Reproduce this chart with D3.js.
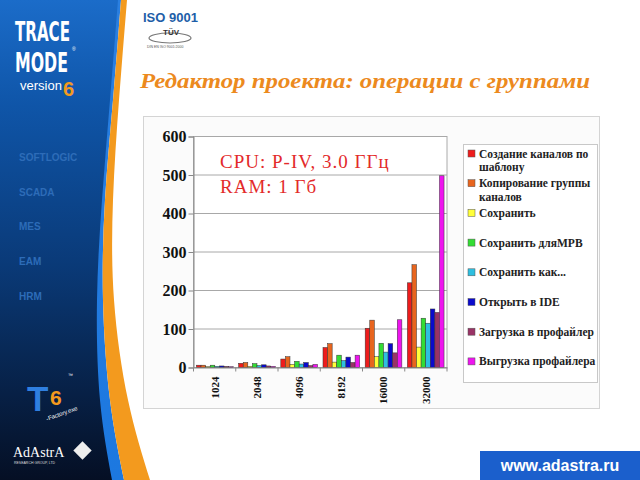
<!DOCTYPE html>
<html><head><meta charset="utf-8">
<script src="https://cdn.jsdelivr.net/npm/d3@7"></script>
<style>html,body{margin:0;padding:0;background:#fff;}svg{display:block;}</style>
</head><body>
<svg id="c" width="640" height="480"></svg>
<script>
// ---- data ----
const categories = ["1024","2048","4096","8192","16000","32000"];
const seriesNames = ["Создание каналов по шаблону","Копирование группы каналов","Сохранить","Сохранить дляМРВ","Сохранить как...","Открыть в IDE","Загрузка в профайлер","Выгрузка профайлера"];
const legendLines = [["Создание каналов по","шаблону"],["Копирование группы","каналов"],["Сохранить"],["Сохранить дляМРВ"],["Сохранить как..."],["Открыть в IDE"],["Загрузка в профайлер"],["Выгрузка профайлера"]];
const sCreate  = [6, 11, 22, 52, 102, 220];
const sCopy    = [6, 13, 28, 62, 123, 267];
const sSave    = [2, 3, 8, 14, 28, 53];
const sSaveMRV = [6, 10, 16, 32, 63, 128];
const sSaveAs  = [3, 5, 9, 18, 40, 115];
const sOpenIDE = [4, 7, 13, 27, 62, 152];
const sLoad    = [3, 4, 5, 13, 38, 143];
const sUnload  = [2, 3, 8, 32, 124, 498];
const seriesValues = [sCreate,sCopy,sSave,sSaveMRV,sSaveAs,sOpenIDE,sLoad,sUnload];
const seriesColors = ["#ee1c1c","#e8651e","#ffff3a","#33dd33","#2ebfe0","#0a0acc","#993366","#ee14ee"];
const yTicks = [0,100,200,300,400,500,600];
const sideItems = ["SOFTLOGIC","SCADA","MES","EAM","HRM"];

const svg = d3.select("#c");
const defs = svg.append("defs");

// ---- left decorative panel ----
const g1 = defs.append("linearGradient").attr("id","pg").attr("x1",0).attr("y1",0).attr("x2",0).attr("y2",1);
g1.append("stop").attr("offset",0).attr("stop-color","#1b6cc9");
g1.append("stop").attr("offset",0.22).attr("stop-color","#0f55a8");
g1.append("stop").attr("offset",0.55).attr("stop-color","#0a3a78");
g1.append("stop").attr("offset",1).attr("stop-color","#050f24");
const g2 = defs.append("linearGradient").attr("id","sg").attr("x1",0).attr("y1",0).attr("x2",0).attr("y2",1);
g2.append("stop").attr("offset",0).attr("stop-color","#2a7fe0");
g2.append("stop").attr("offset",1).attr("stop-color","#1c78e0");

const curve = d3.line().curve(d3.curveNatural);
const ys = [0,100,200,300,400,480];
const dEdge = [118,110,102,97,100,112];
const oL = [121,113,105,103,110,124];
const oR = [127,119,113,114,128,150];
function band(left,right){
  const a = ys.map((y,i)=>[left[i],y]);
  const b = ys.map((y,i)=>[right[i],y]).reverse();
  return curve(a) + "L" + curve(b).slice(1) + "Z";
}
const zeros = ys.map(()=>0);
svg.append("path").attr("d",band(zeros,oL)).attr("fill","url(#sg)");
svg.append("path").attr("d",band(zeros,dEdge)).attr("fill","url(#pg)");
svg.append("path").attr("d",band(oL,oR)).attr("fill","#f39a1e");

// logo: each word scaled horizontally to its width, stacked by measured boxes
const logoFont = "'Liberation Sans Narrow','DejaVu Sans Condensed','Liberation Sans',sans-serif";
function logoWord(txt, size, width, x, top, weight, color, family){
  const t = svg.append("text").attr("x",0).attr("y",0).attr("font-family",family||logoFont)
    .attr("font-weight",weight).attr("font-size",size).attr("fill",color).text(txt);
  const bb = t.node().getBBox();
  const sx = width ? width/bb.width : 1;
  const base = top - bb.y;
  t.attr("transform",`translate(${x - bb.x*sx},${base}) scale(${sx},1)`);
  return {bottom: top + bb.height, right: x + bb.width*sx};
}
const w1 = logoWord("TRACE", 26, 55, 15, 17, "bold", "#fff");
const w2 = logoWord("MODE", 26, 53, 15, w1.bottom + 0.5, "bold", "#fff");
svg.append("text").attr("x",72).attr("y",w1.bottom + 4).attr("font-family","'Liberation Sans',Arial,sans-serif").attr("font-size",5).attr("fill","#fff").text("®");
const w3 = logoWord("version", 13, 0, 20, w2.bottom + 0.5, "normal", "#fff", "'Liberation Sans',Arial,sans-serif");
logoWord("6", 20, 0, w3.right + 1, w2.bottom + 0.5, "bold", "#f39a1e", "'Liberation Sans',Arial,sans-serif");

svg.append("g").selectAll("text").data(sideItems).join("text")
  .attr("x",19).attr("y",(d,i)=>161+i*34.7)
  .attr("font-family","'Liberation Sans',Arial,sans-serif").attr("font-weight","bold").attr("font-size",10)
  .attr("fill","#2d6cb8").text(d=>d);

// T6 logo
svg.append("text").attr("x",27).attr("y",411).attr("font-family","'Liberation Sans',Arial,sans-serif").attr("font-weight","bold").attr("font-size",35).attr("fill","#2f7fe0").text("T");
svg.append("text").attr("x",50).attr("y",405).attr("font-family","'Liberation Sans',Arial,sans-serif").attr("font-weight","bold").attr("font-size",21).attr("fill","#f39a1e").text("6");
svg.append("text").attr("x",47).attr("y",421).attr("font-family","'Liberation Sans',Arial,sans-serif").attr("font-size",6).attr("fill","#fff").attr("transform","rotate(-20 47 421)").text("-Factory.exe");
svg.append("text").attr("x",68).attr("y",377).attr("font-family","'Liberation Sans',Arial,sans-serif").attr("font-size",5).attr("fill","#fff").text("™");
svg.append("text").attr("x",13).attr("y",457).attr("font-family","'Liberation Serif',serif").attr("font-size",14).attr("fill","#fff").text("AdAstrA");
svg.append("text").attr("x",14).attr("y",464).attr("font-family","'Liberation Sans',Arial,sans-serif").attr("font-size",3.5).attr("fill","#ddd").text("RESEARCH GROUP, LTD");
svg.append("rect").attr("x",76).attr("y",444).attr("width",13).attr("height",13).attr("fill","#eee").attr("transform","rotate(45 82.5 450.5)");

// ISO header
svg.append("text").attr("x",143).attr("y",22).attr("font-family","'Liberation Sans',Arial,sans-serif").attr("font-weight","bold").attr("font-size",13).attr("fill","#1e5ea8").text("ISO 9001");
svg.append("ellipse").attr("cx",170).attr("cy",38).attr("rx",21).attr("ry",5).attr("fill","none").attr("stroke","#777").attr("stroke-width",1.2);
svg.append("text").attr("x",163).attr("y",35).attr("font-family","'Liberation Sans',Arial,sans-serif").attr("font-weight","bold").attr("font-size",8).attr("fill","#333").text("TÜV");
svg.append("text").attr("x",147).attr("y",48).attr("font-family","'Liberation Sans',Arial,sans-serif").attr("font-size",3.5).attr("fill","#555").text("DIN EN ISO 9001:2000");

// title
svg.append("text").attr("x",140).attr("y",88).attr("font-family","'Liberation Serif','Times New Roman',serif")
  .attr("font-style","italic").attr("font-weight","bold").attr("font-size",22).attr("fill","#ec8a1e")
  .attr("textLength",450).attr("lengthAdjust","spacingAndGlyphs").text("Редактор проекта: операции с группами");

// footer
svg.append("rect").attr("x",480).attr("y",451).attr("width",160).attr("height",29).attr("fill","#1b5fcc");
svg.append("text").attr("x",560).attr("y",471).attr("text-anchor","middle").attr("font-family","'Liberation Sans',Arial,sans-serif").attr("font-weight","bold").attr("font-size",16).attr("fill","#fff").text("www.adastra.ru");

// ---- chart ----
svg.append("rect").attr("x",143.5).attr("y",116.5).attr("width",456).attr("height",292).attr("fill","#fbfbfb").attr("stroke","#d4d4d4");
const L = 193.5, R = 447, T = 136.5, B = 367.5;
svg.append("rect").attr("x",L).attr("y",T).attr("width",R-L).attr("height",B-T).attr("fill","#fff").attr("stroke","#aaa");
const y = d3.scaleLinear().domain([0,600]).range([B,T]);
const x0 = d3.scaleBand().domain(categories).range([L,R]).paddingInner(0.13).paddingOuter(0.07);
const x1 = d3.scaleBand().domain(d3.range(seriesNames.length)).range([0,x0.bandwidth()]).padding(0);

svg.append("g").selectAll("line").data(yTicks.filter(t=>t>0)).join("line")
  .attr("x1",L).attr("x2",R).attr("y1",d=>y(d)).attr("y2",d=>y(d)).attr("stroke","#a8a8a8").attr("stroke-width",1);

const yAxis = svg.append("g").attr("transform",`translate(${L},0)`).call(d3.axisLeft(y).tickValues(yTicks).tickSize(5).tickPadding(2));
yAxis.select(".domain").attr("stroke","#888");
yAxis.selectAll("line").attr("stroke","#888");
yAxis.selectAll("text").attr("font-family","'Liberation Serif','Times New Roman',serif").attr("font-weight","bold").attr("font-size",16).attr("fill","#111");

const groups = svg.append("g").selectAll("g").data(categories).join("g").attr("transform",d=>`translate(${x0(d)},0)`);
groups.selectAll("rect").data((c,ci)=>seriesValues.map((s,si)=>({si, v:s[ci]}))).join("rect")
  .attr("x",d=>x1(d.si)).attr("width",x1.bandwidth()).attr("y",d=>y(d.v)).attr("height",d=>B-y(d.v))
  .attr("fill",d=>seriesColors[d.si]).attr("stroke","#333").attr("stroke-width",0.5);

const xa = svg.append("g").attr("transform",`translate(0,${B})`).call(d3.axisBottom(x0).tickSize(0).tickPadding(0));
xa.select(".domain").attr("stroke","#888");
xa.selectAll(".tick text").attr("font-family","'Liberation Serif','Times New Roman',serif").attr("font-weight","bold").attr("font-size",11).attr("fill","#111")
  .attr("transform","rotate(-90)").attr("text-anchor","end").attr("dy","0.35em").attr("x",-9).attr("y",0);
svg.append("g").selectAll("line").data(d3.range(categories.length+1)).join("line")
  .attr("x1",i=>L+i*(R-L)/categories.length).attr("x2",i=>L+i*(R-L)/categories.length)
  .attr("y1",B).attr("y2",B+4).attr("stroke","#888");

// annotation
const ann = svg.append("g").attr("font-family","'Liberation Serif','Times New Roman',serif").attr("font-size",19).attr("letter-spacing",1).attr("fill","#e32a2a");
ann.append("text").attr("x",220).attr("y",168).text("CPU: P-IV, 3.0 ГГц");
ann.append("text").attr("x",220).attr("y",193).text("RAM: 1 Гб");

// legend
svg.append("rect").attr("x",463.5).attr("y",144.5).attr("width",134).attr("height",238).attr("fill","#fff").attr("stroke","#c8c8c8");
const li = svg.append("g").selectAll("g").data(seriesNames).join("g").attr("transform",(d,i)=>`translate(468,${154+i*29.7})`);
li.append("rect").attr("x",0).attr("y",-4).attr("width",7).attr("height",7).attr("fill",(d,i)=>seriesColors[i]).attr("stroke","#555").attr("stroke-width",0.5);
li.append("text").attr("font-family","'Liberation Serif','Times New Roman',serif").attr("font-weight","bold").attr("font-size",11.5).attr("fill","#222")
  .attr("x",11).attr("y",3.5)
  .selectAll("tspan").data((d,i)=>legendLines[i]).join("tspan").attr("x",11).attr("dy",(d,j)=>j===0?0:13.5).text(d=>d);
</script>
</body></html>
